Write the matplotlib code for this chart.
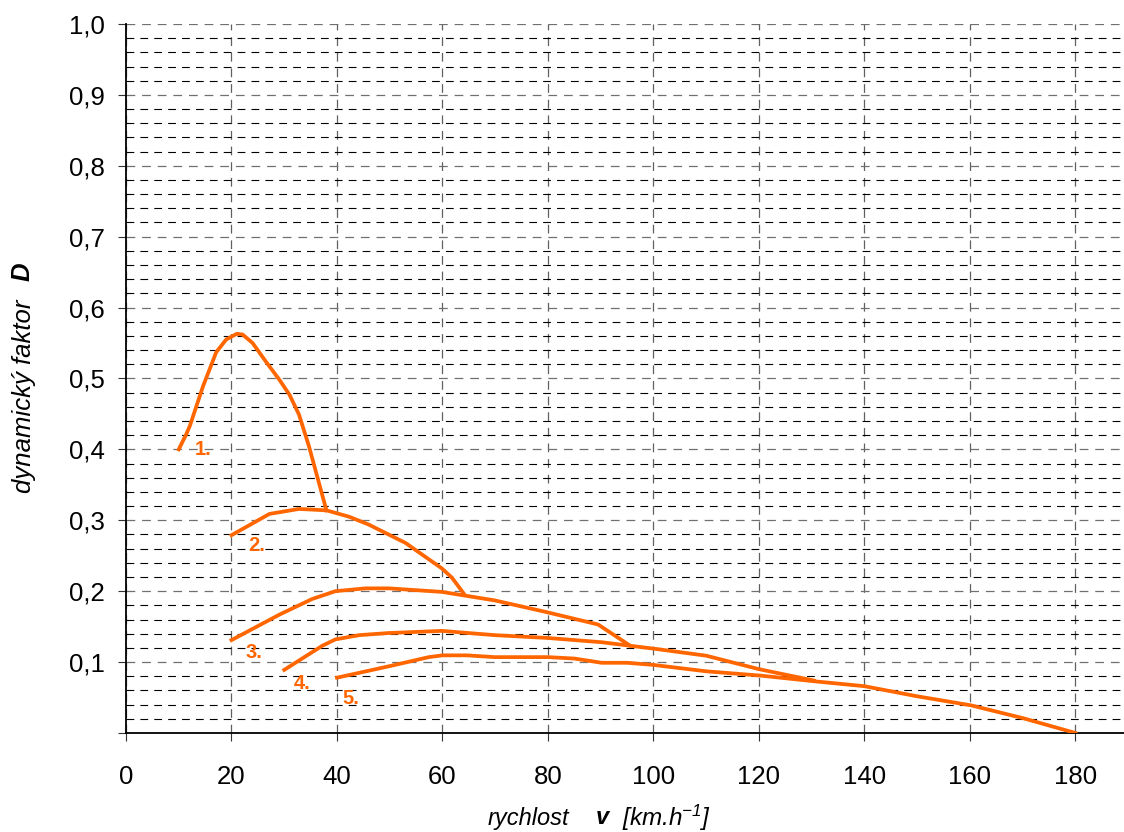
import matplotlib
matplotlib.use("Agg")
import matplotlib.pyplot as plt
from matplotlib.ticker import FuncFormatter, MultipleLocator

plt.rcParams['font.family'] = ['Liberation Sans', 'DejaVu Sans']
plt.rcParams['mathtext.fontset'] = 'custom'
plt.rcParams['mathtext.rm'] = 'Liberation Sans:italic'
plt.rcParams['mathtext.it'] = 'Liberation Sans:italic'

# gear curves: speed v [km/h], dynamic factor D
v1 = [10, 11.4, 12.1, 14.6, 17.1, 19, 21, 22.1, 24, 26.5, 29.1, 31, 32.8, 34.7, 38]
d1 = [0.40, 0.421, 0.433, 0.489, 0.537, 0.555, 0.563, 0.562, 0.550, 0.524, 0.498, 0.477, 0.449, 0.404, 0.314]

v2 = [20, 27.2, 32.8, 38, 42.3, 46, 53, 59.9, 61.8, 64]
d2 = [0.279, 0.309, 0.316, 0.314, 0.305, 0.294, 0.268, 0.232, 0.219, 0.197]

v3 = [20, 29.1, 35.3, 39.7, 45.4, 49.8, 59.9, 69.9, 80, 89.5, 95.6]
d3 = [0.131, 0.167, 0.189, 0.200, 0.204, 0.204, 0.199, 0.187, 0.170, 0.153, 0.123]

v4 = [30, 37.2, 39.7, 44.2, 49.8, 59.9, 69.9, 80, 90.2, 95.6, 100, 110, 120, 130.4]
d4 = [0.089, 0.123, 0.132, 0.138, 0.141, 0.144, 0.138, 0.134, 0.128, 0.123, 0.119, 0.109, 0.090, 0.074]

v5 = [40, 50.4, 57.4, 60, 64.6, 69.9, 80, 85, 90.2, 95, 100, 110, 120.2, 130.4, 140, 149.8, 160.2, 170, 180]
d5 = [0.078, 0.095, 0.107, 0.1095, 0.1095, 0.107, 0.107, 0.105, 0.099, 0.099, 0.096, 0.087, 0.081, 0.073, 0.066, 0.052, 0.039, 0.021, 0.0]

curves = [(v1, d1), (v2, d2), (v3, d3), (v4, d4), (v5, d5)]
labels = ['1.', '2.', '3.', '4.', '5.']
label_pos = [(14.6, 0.40), (24.8, 0.265), (24.3, 0.113), (33.3, 0.070), (42.6, 0.049)]

orange = '#FF6600'

fig = plt.figure(figsize=(11.24, 8.32), dpi=100)
ax = fig.add_axes([0.1121, 0.119, 0.8879, 0.8522])

for v, d in curves:
    ax.plot(v, d, color=orange, linewidth=2.7, solid_joinstyle='round', zorder=3)

for lab, (x, y) in zip(labels, label_pos):
    ax.text(x, y, lab, color=orange, fontsize=14.5, fontweight='bold',
            ha='center', va='center', zorder=4)

ax.set_xlim(0, 189.2)
ax.set_ylim(0, 1.0)

ax.xaxis.set_major_locator(MultipleLocator(20))
ax.yaxis.set_major_locator(MultipleLocator(0.1))
ax.yaxis.set_minor_locator(MultipleLocator(0.02))

ax.yaxis.set_major_formatter(FuncFormatter(
    lambda y, p: '' if abs(y) < 1e-9 else f'{y:.1f}'.replace('.', ',')))

dash = (0, (7, 5.5))
ax.grid(True, axis='x', which='major', color='#606060', linestyle=dash, linewidth=0.9)
ax.grid(True, axis='y', which='major', color='#707070', linestyle=dash, linewidth=0.9)
ax.grid(True, axis='y', which='minor', color='#000000', linestyle=dash, linewidth=0.8)
ax.set_axisbelow(True)

for s in ['top', 'right']:
    ax.spines[s].set_visible(False)
ax.spines['left'].set_linewidth(1.3)
ax.spines['bottom'].set_linewidth(1.3)

ax.tick_params(axis='both', which='major', labelsize=18.5, direction='out', length=6,
               color='#333333')
ax.tick_params(axis='x', pad=17)
ax.tick_params(axis='y', pad=9)
ax.tick_params(axis='y', which='minor', length=0)

# axis titles built from pieces (italic words, bold italic symbol)
fs = 17
ly = 1 - 818 / 832
fig.text(569 / 1124, ly, 'rychlost', fontsize=fs, style='italic',
         ha='right', va='center')
fig.text(602 / 1124, ly, 'v', fontsize=fs, style='italic',
         fontweight='bold', ha='center', va='center')
fig.text(622 / 1124, ly, '[km.h$^{-1}$]', fontsize=17.5, style='italic',
         ha='left', va='center')

fig.text(24 / 1124, 1 - 493 / 832, 'dynamický faktor', fontsize=18.5, style='italic',
         rotation=90, ha='center', va='bottom')
fig.text(23 / 1124, 1 - 272 / 832, 'D', fontsize=18.5, style='italic',
         fontweight='bold', rotation=90, ha='center', va='center')

fig.savefig('out.png', dpi=100)
